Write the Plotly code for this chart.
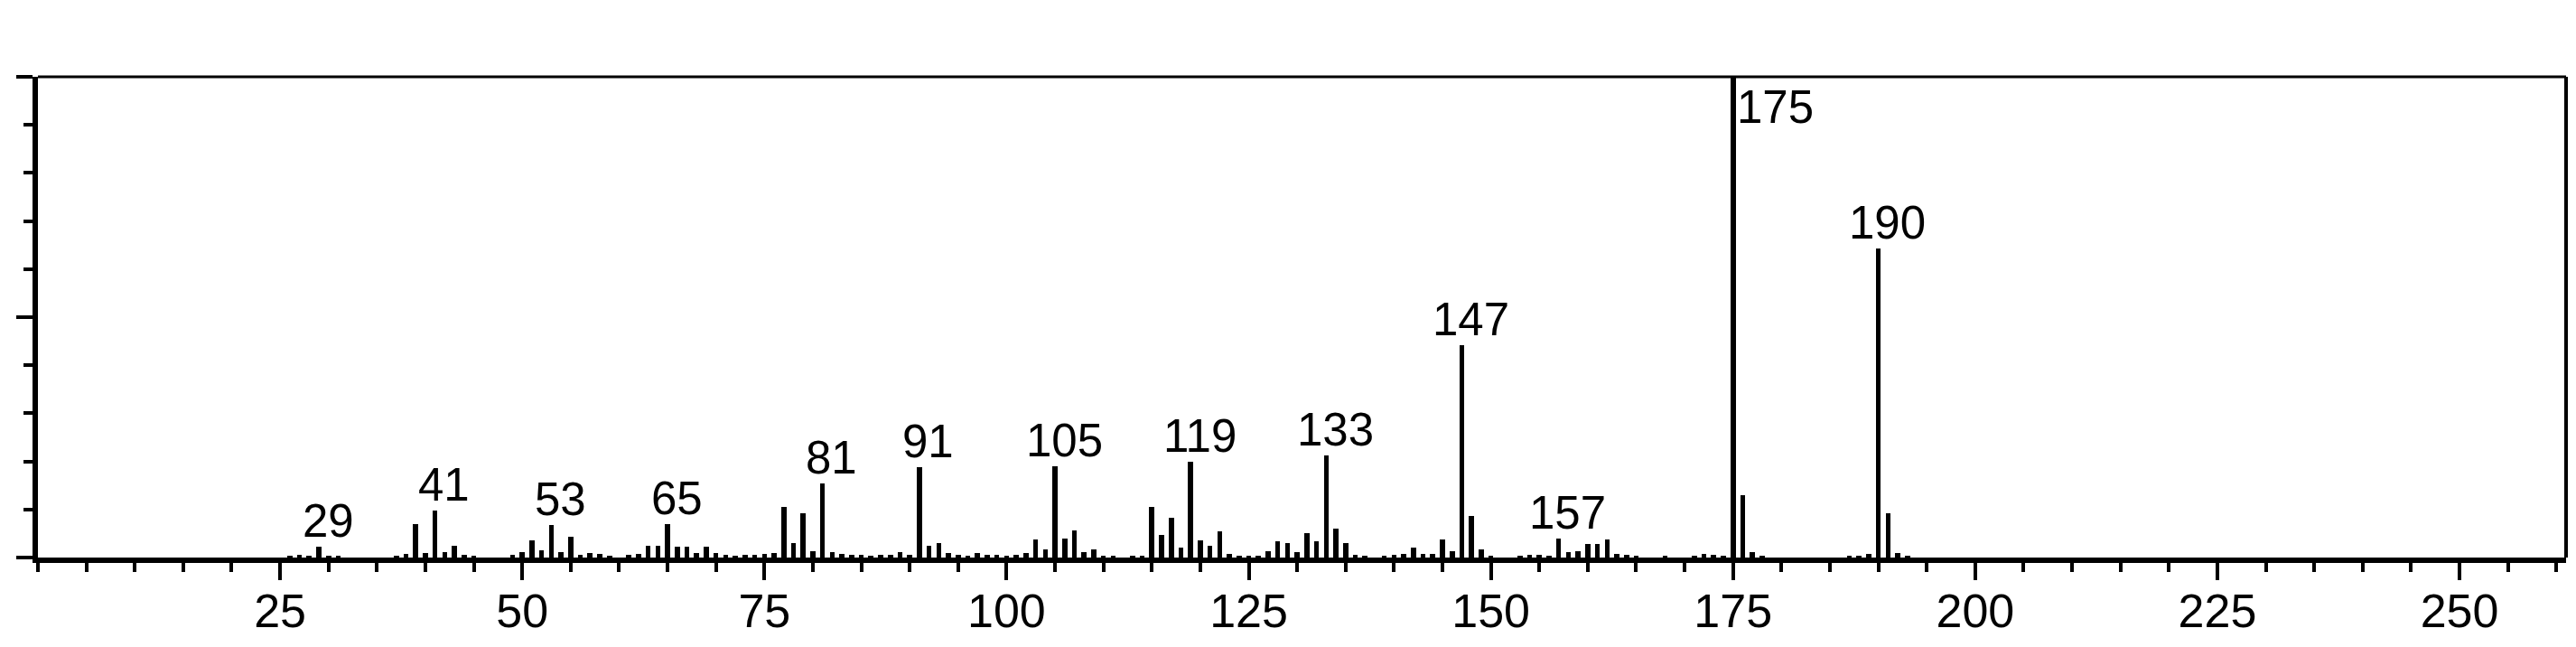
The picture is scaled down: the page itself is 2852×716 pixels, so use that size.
import plotly.graph_objects as go

# m/z values and relative intensities (%)
mz = [26, 27, 28, 29, 30, 31, 37, 38, 39, 40, 41, 42, 43, 44, 45,
      49, 50, 51, 52, 53, 54, 55, 56, 57, 58, 59, 61, 62, 63, 64, 65, 66, 67, 68, 69, 70,
      71, 72, 73, 74, 75, 76, 77, 78, 79, 80, 81, 82, 83, 84, 85, 86, 87, 88, 89, 90,
      91, 92, 93, 94, 95, 96, 97, 98, 99, 100, 101, 102, 103, 104, 105, 106, 107, 108, 109, 110,
      111, 113, 114, 115, 116, 117, 118, 119, 120, 121, 122, 123, 124, 125, 126, 127, 128, 129, 130,
      131, 132, 133, 134, 135, 136, 137, 139, 140, 141, 142, 143, 144, 145, 146, 147, 148, 149, 150,
      153, 154, 155, 156, 157, 158, 159, 160, 161, 162, 163, 164, 165, 168, 171, 172, 173, 174, 175,
      176, 177, 178, 187, 188, 189, 190, 191, 192, 193]
intensity = [0.3, 0.5, 0.3, 2.2, 0.4, 0.3, 0.4, 0.8, 7.0, 1.0, 9.8, 1.2, 2.4, 0.5, 0.3,
             0.5, 1.2, 3.6, 1.5, 6.8, 1.2, 4.3, 0.5, 0.9, 0.7, 0.3, 0.5, 0.8, 2.5, 2.5, 7.0, 2.2, 2.2, 1.0, 2.2, 0.9,
             0.6, 0.4, 0.6, 0.5, 0.7, 0.9, 10.6, 3.1, 9.2, 1.3, 15.5, 1.1, 0.8, 0.5, 0.5, 0.4, 0.5, 0.5, 1.2, 0.5,
             18.8, 2.4, 3.1, 1.0, 0.6, 0.4, 0.9, 0.5, 0.5, 0.4, 0.5, 0.9, 3.7, 1.6, 19.0, 4.0, 5.7, 1.2, 1.6, 0.4,
             0.3, 0.3, 0.4, 10.5, 4.7, 8.3, 2.0, 20.0, 3.6, 2.5, 5.5, 0.8, 0.3, 0.3, 0.4, 1.4, 3.3, 3.0, 1.2,
             5.0, 3.3, 21.2, 6.0, 3.0, 0.6, 0.3, 0.3, 0.5, 0.8, 2.0, 0.8, 0.8, 3.7, 1.4, 44.2, 8.7, 1.7, 0.3,
             0.3, 0.5, 0.5, 0.4, 3.9, 1.2, 1.4, 2.9, 2.9, 3.7, 0.8, 0.5, 0.3, 0.3, 0.4, 0.8, 0.6, 0.3, 100.0,
             13.0, 1.2, 0.3, 0.3, 0.4, 0.8, 64.3, 9.3, 1.0, 0.4]

label_mz = [29, 41, 53, 65, 81, 91, 105, 119, 133, 147, 157, 190]
base_peak = 175
x_tick_vals = [25, 50, 75, 100, 125, 150, 175, 200, 225, 250]
x_tick_text = ["25", "50", "75", "100", "125", "150", "175", "200", "225", "250"]

FONT = "Liberation Sans, Arial, sans-serif"

fig = go.Figure()
fig.add_trace(go.Bar(x=mz, y=intensity, width=0.52,
                     marker=dict(color="black", line=dict(width=0)),
                     showlegend=False, hoverinfo="x+y"))

lookup = dict(zip(mz, intensity))
annotations = []
for m in label_mz:
    annotations.append(dict(x=m, y=lookup[m], text=str(m), showarrow=False,
                            xanchor="center", yanchor="bottom", xshift=10, yshift=-2,
                            font=dict(size=51, color="black", family=FONT)))
annotations.append(dict(x=base_peak, y=lookup[base_peak], text=str(base_peak), showarrow=False,
                        xanchor="left", yanchor="top", xshift=2, yshift=-3,
                        font=dict(size=51, color="black", family=FONT)))

# the page body adds an 8px margin, so the figure is sized to fit the window
fig.update_layout(
    width=2844, height=708,
    margin=dict(l=34, r=11, t=77, b=99),
    paper_bgcolor="white", plot_bgcolor="white",
    bargap=0,
    annotations=annotations,
    shapes=[
        dict(type="line", xref="paper", yref="paper", x0=0, x1=1, y0=1, y1=1,
             line=dict(color="black", width=3)),
        dict(type="line", xref="paper", yref="paper", x0=1, x1=1, y0=0, y1=1,
             line=dict(color="black", width=4)),
    ],
)
fig.update_xaxes(range=[0, 261], showgrid=False, zeroline=False,
                 showline=True, linecolor="black", linewidth=6,
                 tickmode="array", tickvals=x_tick_vals, ticktext=x_tick_text,
                 ticks="outside", ticklen=19, tickwidth=4, tickcolor="black",
                 ticklabelstandoff=-10,
                 tickfont=dict(size=52, color="black", family=FONT),
                 minor=dict(tickmode="linear", tick0=0, dtick=5, ticks="outside",
                            ticklen=10, tickwidth=4, tickcolor="black", showgrid=False))
fig.update_yaxes(range=[0, 100], showgrid=False, zeroline=False,
                 showline=True, linecolor="black", linewidth=6,
                 tickmode="array", tickvals=[0, 50, 100], showticklabels=False,
                 ticks="outside", ticklen=18, tickwidth=4, tickcolor="black",
                 minor=dict(tickmode="linear", tick0=0, dtick=10, ticks="outside",
                            ticklen=10, tickwidth=4, tickcolor="black", showgrid=False))

fig.write_html("out.html")
